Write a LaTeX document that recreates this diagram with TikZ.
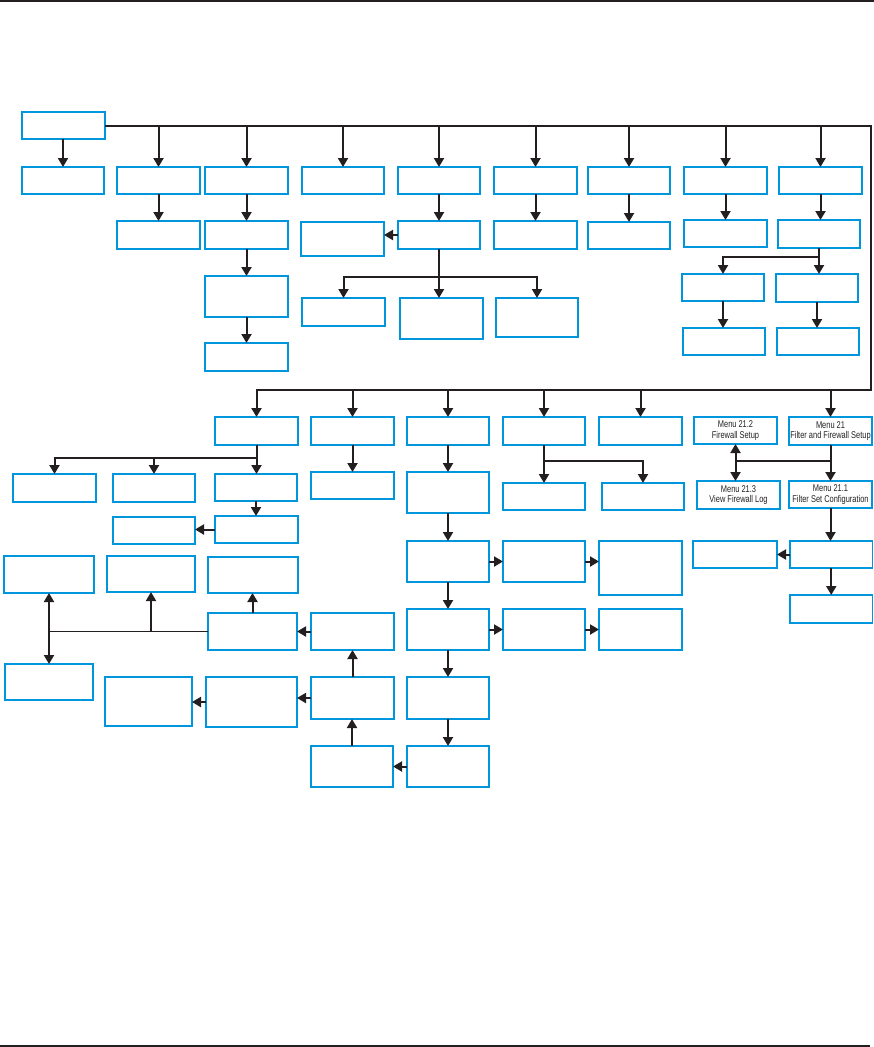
\documentclass[tikz,border=0pt]{standalone}
\usepackage{fontspec}
\setmainfont{Liberation Sans}
\newfontfamily\narrowsans[FakeStretch=0.76]{Liberation Sans}
\usetikzlibrary{arrows.meta,calc}
\definecolor{boxblue}{RGB}{0,150,222}
\definecolor{ink}{RGB}{35,31,32}
\tikzset{
 bx/.style={draw=boxblue, line width=1.8pt, inner sep=0pt, outer sep=0pt, align=center,
   font=\narrowsans\fontsize{9.8}{10.8}\selectfont, text=ink},
 conn/.style={draw=ink, line width=1.7pt},
 arr/.style={draw=ink, line width=2pt, -{Triangle[length=9pt,width=10pt]}},
 dbl/.style={draw=ink, line width=2pt, {Triangle[length=9pt,width=10pt]}-{Triangle[length=9pt,width=10pt]}},
}
\newcommand\bx[6]{\node[bx, minimum width={(#4-#2)*1pt}, minimum height={(#5-#3)*1pt}] (#1) at ({(#2+#4)/2},{(#3+#5)/2}) {#6};}
\begin{document}
\begin{tikzpicture}[x=1pt,y=-1pt]
\useasboundingbox (0,0) rectangle (874,1047);
\draw[line width=2pt, ink] (0,1) -- (874,1);
\draw[line width=1.5pt, ink] (0,1046) -- (870,1046);
% top section
\bx{root}{22}{112}{105}{139}{}
\bx{A1}{22}{167}{104}{194}{}
\bx{B1}{117}{167}{200}{194}{}
\bx{C1}{205}{167}{288}{194}{}
\bx{D1}{302}{167}{384}{194}{}
\bx{E1}{398}{167}{480}{194}{}
\bx{F1}{494}{167}{577}{194}{}
\bx{G1}{588}{167}{670}{194}{}
\bx{H1}{684}{167}{767}{194}{}
\bx{I1}{779}{167}{862}{194}{}
\bx{B2}{117}{221}{200}{249}{}
\bx{C2}{205}{221}{288}{249}{}
\bx{D2}{301}{222}{384}{256}{}
\bx{E2}{398}{221}{480}{249}{}
\bx{F2}{494}{221}{577}{249}{}
\bx{G2}{588}{222}{670}{249}{}
\bx{H2}{684}{220}{767}{247}{}
\bx{I2}{778}{220}{860}{248}{}
\bx{C3}{205}{276}{288}{317}{}
\bx{C4}{205}{343}{288}{371}{}
\bx{E3a}{302}{298}{385}{326}{}
\bx{E3b}{400}{298}{483}{339}{}
\bx{E3c}{496}{298}{578}{337}{}
\bx{I3a}{682}{274}{764}{301}{}
\bx{I3b}{776}{274}{858}{302}{}
\bx{I4a}{683}{328}{765}{355}{}
\bx{I4b}{777}{328}{859}{355}{}
% bottom section
\bx{L1a}{215}{417}{298}{445}{}
\bx{L1b}{311}{417}{394}{445}{}
\bx{L1c}{407}{417}{489}{445}{}
\bx{L1d}{503}{417}{585}{445}{}
\bx{L1e}{599}{417}{682}{445}{}
\bx{FW2}{694}{417}{777}{444}{Menu 21.2\\Firewall Setup}
\bx{FW}{789}{417}{872}{445}{Menu 21\\Filter and Firewall Setup}
\bx{L2a}{13}{474}{96}{502}{}
\bx{L2b}{113}{474}{195}{502}{}
\bx{L2c}{215}{474}{297}{501}{}
\bx{L2x}{311}{472}{394}{499}{}
\bx{L2e}{407}{472}{489}{513}{}
\bx{L2d}{503}{483}{585}{510}{}
\bx{L2f}{602}{483}{684}{510}{}
\bx{FW3}{697}{481}{780}{509}{Menu 21.3\\View Firewall Log}
\bx{FW1}{789}{481}{872}{508}{Menu 21.1\\Filter Set Configuration}
\bx{L3c}{215}{516}{298}{543}{}
\bx{L3b}{113}{517}{195}{544}{}
\bx{L3e}{407}{541}{489}{582}{}
\bx{L3f}{503}{541}{585}{582}{}
\bx{L3g}{599}{541}{682}{595}{}
\bx{R3g}{790}{541}{872.5}{568}{}
\bx{R3h}{693}{541}{777}{568}{}
\bx{L4a}{4}{556}{94}{593}{}
\bx{L4b}{107}{556}{195}{592}{}
\bx{L4c}{208}{557}{298}{593}{}
\bx{L4e}{407}{609}{489}{650}{}
\bx{L4f}{503}{609}{585}{650}{}
\bx{L4g}{599}{609}{682}{650}{}
\bx{R4g}{790}{595}{872.5}{623}{}
\bx{L5c}{208}{613}{297}{650}{}
\bx{L5d}{311}{613}{394}{650}{}
\bx{L6a}{5}{664}{93}{700}{}
\bx{L6b}{105}{677}{192}{726}{}
\bx{L6c}{206}{677}{297}{727}{}
\bx{L6d}{311}{677}{394}{719}{}
\bx{L5e}{407}{677}{489}{719}{}
\bx{L7d}{311}{746}{393}{787}{}
\bx{L7e}{407}{746}{489}{787}{}
% trunk
\coordinate (tR) at (870.7,125.5);
\coordinate (bR) at (870.7,390);
\draw[arr] (A1.north |- root.south) -- (A1.north);
\draw[arr] (root.east) -- (tR) -- (bR) -| (L1a.north);
\foreach \n in {B1,C1,D1,E1,F1,G1,H1,I1} \draw[arr] (\n.north |- root.east) -- (\n.north);
\foreach \n in {L1b,L1c,L1d,L1e,FW} \draw[arr] (\n.north |- bR) -- (\n.north);
% vertical downward
\foreach \a/\b in {B1/B2,C1/C2,E1/E2,F1/F2,G1/G2,H1/H2,I1/I2,C2/C3,C3/C4,I3a/I4a,I3b/I4b,
  L1b/L2x,L2c/L3c,L1c/L2e,L2e/L3e,L3e/L4e,L4e/L5e,L5e/L7e,FW1/R3g,R3g/R4g}
  \draw[arr] (\a.south) -- (\a.south |- \b.north);
% vertical upward
\foreach \a/\b in {L5c/L4c,L6d/L5d,L7d/L6d}
  \draw[arr] (\a.north) -- (\a.north |- \b.south);
% horizontal leftward
\foreach \a/\b in {E2/D2,L3c/L3b,L5d/L5c,L6d/L6c,L6c/L6b,L7e/L7d,R3g/R3h}
  \draw[arr] (\a.west) -- (\a.west -| \b.east);
% horizontal rightward
\foreach \a/\b in {L3e/L3f,L3f/L3g,L4e/L4f,L4f/L4g}
  \draw[arr] (\a.east) -- (\a.east -| \b.west);
% buses
\path (E2.south) ++(0,28) coordinate (eb);
\draw[arr] (E2.south) -- (E2.south |- E3b.north);
\draw[arr] (eb) -| (E3a.north);
\draw[arr] (eb) -| (E3c.north);
\path (I2.south) ++(0,9) coordinate (ib);
\draw[arr] (I2.south) -- (I2.south |- I3b.north);
\draw[arr] (ib) -| (I3a.north);
\path (L1a.south) ++(0,13) coordinate (ab);
\draw[arr] (L1a.south) -- (L1a.south |- L2c.north);
\draw[arr] (ab) -| (L2a.north);
\draw[arr] (ab) -| (L2b.north);
\path (L1d.south) ++(0,16) coordinate (db);
\draw[arr] (L1d.south) -- (L1d.south |- L2d.north);
\draw[arr] (db) -| (L2f.north);
\path (FW.south) ++(0,16) coordinate (fb);
\draw[arr] (FW.south) -- (FW.south |- FW1.north);
\draw[conn] (fb) -- (fb -| FW2.south);
\draw[dbl] (FW2.south) -- (FW2.south |- FW3.north);
% left junction
\draw[conn] (L5c.west) -- (L5c.west -| L4a.south);
\draw[dbl] (L4a.south) -- (L4a.south |- L6a.north);
\draw[arr] (L4b.south |- L5c.west) -- (L4b.south);
\end{tikzpicture}
\end{document}
